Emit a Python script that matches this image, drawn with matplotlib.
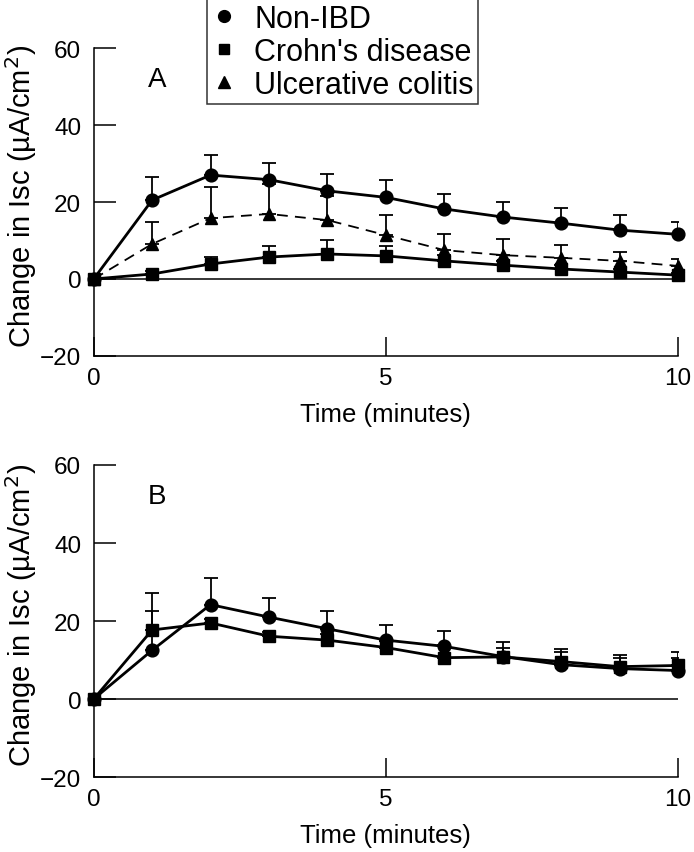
import matplotlib
matplotlib.use("Agg")
import matplotlib.pyplot as plt
from matplotlib.lines import Line2D

plt.rcParams['font.family'] = ['Liberation Sans', 'DejaVu Sans']

time = [0, 1, 2, 3, 4, 5, 6, 7, 8, 9, 10]

# Panel A
a_non_ibd = [0, 20.5, 27.0, 25.8, 22.9, 21.2, 18.2, 16.1, 14.5, 12.7, 11.6]
a_non_ibd_err = [0, 6.0, 5.1, 4.4, 4.4, 4.5, 3.9, 3.9, 3.9, 3.9, 3.2]
a_crohn = [0, 1.3, 3.9, 5.7, 6.5, 6.0, 4.7, 3.6, 2.6, 1.8, 1.0]
a_crohn_err = [0, 0.8, 1.8, 2.9, 3.6, 2.6, 1.5, 1.2, 1.0, 0.8, 0.6]
a_uc = [0, 9.1, 15.8, 16.9, 15.3, 11.4, 7.5, 6.2, 5.5, 4.7, 3.4]
a_uc_err = [0, 5.7, 8.1, 7.8, 6.3, 5.2, 4.2, 4.2, 3.3, 2.3, 1.8]

# Panel B
b_non_ibd = [0, 12.5, 24.2, 21.0, 18.0, 15.1, 13.5, 10.9, 8.8, 7.8, 7.3]
b_non_ibd_err = [0, 10.1, 6.7, 5.0, 4.6, 3.9, 3.9, 3.6, 3.9, 3.4, 4.7]
b_crohn = [0, 17.7, 19.5, 16.1, 15.1, 13.2, 10.6, 10.8, 9.6, 8.3, 8.6]
b_crohn_err = [0, 9.6, 1.0, 1.0, 1.5, 1.6, 3.2, 2.4, 2.5, 2.2, 1.8]

TFS = 17.5
fig = plt.figure(figsize=(6.94, 8.53), dpi=100)
axA = fig.add_axes([0.135, 0.5815, 0.842, 0.361])
axB = fig.add_axes([0.135, 0.0879, 0.842, 0.3658])

MS = {'o': 9.2, 's': 8.4, '^': 9.2}
cap = 5

def style(ax, letter):
    ax.set_xlim(0, 10)
    ax.set_ylim(-20, 60)
    ax.set_xticks([0, 5, 10])
    ax.set_yticks([-20, 0, 20, 40, 60])
    ax.set_yticklabels(['\u221220', '0', '20', '40', '60'])
    for s in ['top', 'right']:
        ax.spines[s].set_visible(False)
    for s in ['left', 'bottom']:
        ax.spines[s].set_linewidth(1.1)
    ax.tick_params(axis='y', direction='in', length=16, width=1.1, labelsize=TFS, pad=9)
    ax.tick_params(axis='x', direction='in', length=14, width=1.1, labelsize=TFS, pad=8)
    ax.axhline(0, color='black', lw=1.1, xmin=0, xmax=1)
    ax.set_xlabel('Time (minutes)', fontsize=18.5, labelpad=9)
    ax.set_ylabel('Change in Isc (\u00b5A/cm$^2$)', fontsize=21)
    ax.yaxis.set_label_coords(-0.094, 0.52)
    ax.text(0.92, 52, letter, fontsize=20, va='center', ha='left')

def series(ax, y, err, marker, ls='-'):
    ax.errorbar(time, y, yerr=[[0] * len(err), err], fmt='none',
                ecolor='black', capsize=cap, capthick=1.3, elinewidth=1.3,
                zorder=2)
    line, = ax.plot(time, y, marker=marker, ls=ls, color='black',
                    lw=1.3 if ls == '--' else 2.0,
                    ms=MS[marker], clip_on=False, zorder=3)
    if ls == '--':
        line.set_dashes((6, 4))

series(axA, a_non_ibd, a_non_ibd_err, 'o')
series(axA, a_uc, a_uc_err, '^', '--')
series(axA, a_crohn, a_crohn_err, 's')
style(axA, 'A')

series(axB, b_non_ibd, b_non_ibd_err, 'o')
series(axB, b_crohn, b_crohn_err, 's')
style(axB, 'B')

handles = [Line2D([], [], ls='none', marker='o', color='black', ms=8.5),
           Line2D([], [], ls='none', marker='s', color='black', ms=7.5),
           Line2D([], [], ls='none', marker='^', color='black', ms=8.5)]
labels = ['Non-IBD', "Crohn's disease", 'Ulcerative colitis']
leg = fig.legend(handles, labels, loc='upper left', bbox_to_anchor=(0.298, 1.0),
                 fontsize=22, frameon=True, fancybox=False, edgecolor='black',
                 handlelength=0.8, handletextpad=0.6, borderpad=0.15,
                 labelspacing=0.1, borderaxespad=0)
leg.get_frame().set_linewidth(1.1)

fig.savefig('out.png', dpi=100)
